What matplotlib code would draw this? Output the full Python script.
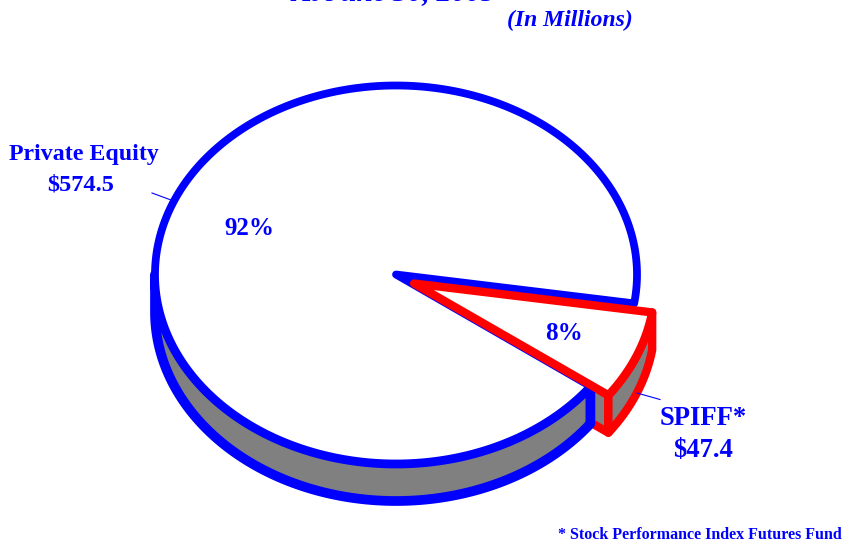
import numpy as np
import matplotlib
matplotlib.use('Agg')
import matplotlib.pyplot as plt
from matplotlib.patches import Polygon

plt.rcParams['font.family'] = ['Liberation Serif', 'DejaVu Serif']

names = ['Private Equity', 'SPIFF*']
amounts = [574.5, 47.4]
amount_labels = ['$574.5', '$47.4']
pct_labels = ['92%', '8%']
title = 'At June 30, 2005'
subtitle = '(In Millions)'
footnote = '* Stock Performance Index Futures Fund'

blue = '#0000ff'
red = '#ff0000'
grey = '#808080'

# pie geometry in pixels, y goes down
cx, cy = 396, 274.5
rx, ry = 241, 189
depth = 37.5
shift = (18, 9)
start = 8.8


def arc(t0, t1, dx=0, dy=0):
    t = np.radians(np.linspace(t0, t1, 300))
    return np.column_stack((cx + dx + rx*np.cos(t), cy + dy + ry*np.sin(t)))


def add_poly(pts, face, edge, lw=5.6):
    ax.add_patch(Polygon(pts, closed=True, facecolor=face, edgecolor=edge,
                         linewidth=lw, joinstyle='round'))


fig = plt.figure(figsize=(8.42, 5.42), dpi=100)
ax = fig.add_axes([0, 0, 1, 1])
ax.set_xlim(0, 842)
ax.set_ylim(542, 0)
ax.axis('off')

sweep = 360*amounts[1]/sum(amounts)
end = start + sweep
sx, sy = shift
centre = np.array([[cx, cy]])
centre2 = np.array([[cx + sx, cy + sy]])

# cut face of the small slice, mostly hidden by the big one
corner = arc(end, end, sx, sy)[:1]
cut = np.vstack((centre2, corner, corner + [0, depth], centre2 + [0, depth]))
add_poly(cut, grey, red, 6)

# big slice: side wall then top, the wall stroke is a bit heavier
top_edge = arc(end, 180)
wall = np.vstack((top_edge, arc(180, end, 0, depth)))
add_poly(wall, grey, blue, 7)
add_poly(np.vstack((centre, arc(end, start + 360))), 'white', blue)

# small slice: side wall then top
top_edge = arc(start, end, sx, sy)
wall = np.vstack((top_edge, arc(end, start, sx, sy + depth)))
add_poly(wall, grey, red, 6)
add_poly(np.vstack((centre2, top_edge)), 'white', red, 6)

# leader lines
ax.plot([152, 171], [193, 200], color=blue, lw=0.8)
ax.plot([637, 660], [393, 399.5], color=blue, lw=0.8)

# texts, the title is cut by the top edge as in the source
bold = dict(color=blue, fontweight='bold', ha='center', va='baseline')
ax.text(394, 0, title, fontsize=21, fontstyle='italic', clip_on=False, **bold)
ax.text(570, 26, subtitle, fontsize=17, fontstyle='italic', **bold)
ax.text(84, 160, names[0], fontsize=17.2, **bold)
ax.text(81, 190, amount_labels[0], fontsize=17.5, **bold)
ax.text(703, 425, names[1], fontsize=19.2, **bold)
ax.text(703, 457, amount_labels[1], fontsize=19.2, **bold)
ax.text(249, 235, pct_labels[0], fontsize=18, **bold)
ax.text(564, 340, pct_labels[1], fontsize=18, **bold)
ax.text(842, 539, footnote, fontsize=11.5, color=blue, fontweight='bold',
        ha='right', va='baseline')

fig.savefig('out.png', dpi=100)
